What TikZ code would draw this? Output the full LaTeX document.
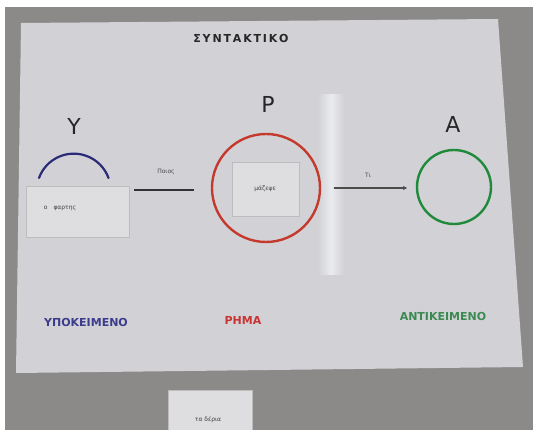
\documentclass[tikz,border=0pt]{standalone}
\usepackage{fontspec}
\setmainfont{DejaVu Sans}
\usetikzlibrary{arrows.meta}
\definecolor{bggray}{HTML}{8C8A88}
\definecolor{poster}{HTML}{D2D2D6}
\definecolor{glare}{HTML}{EAEBEE}
\definecolor{cardc}{HTML}{DEDEE0}
\definecolor{ublue}{HTML}{2A2A78}
\definecolor{rred}{HTML}{C43A2C}
\definecolor{agreen}{HTML}{1F8A3C}
\definecolor{lblue}{HTML}{3C3C8C}
\definecolor{lred}{HTML}{C83434}
\definecolor{lgreen}{HTML}{3A8A52}
\tikzset{
  card/.style={fill=cardc, draw=cardc!85!black, line width=0.4pt, inner sep=0pt},
  cardtext/.style={font=\fontsize{6}{7}\selectfont, text=black!75},
  bigletter/.style={font=\fontsize{22}{24}\selectfont, text=black!85},
  caption/.style={font=\bfseries\fontsize{11}{12}\selectfont},
  stroke/.style={line width=2.2pt, line cap=round},
  smalllabel/.style={font=\fontsize{6}{7}\selectfont, text=black!70}
}
\begin{document}
\begin{tikzpicture}[x=1pt,y=-1pt]
\useasboundingbox (0,0) rectangle (538,430);
\fill[white] (0,0) rectangle (538,430);
\fill[bggray] (5,7) rectangle (533,430);
% poster
\fill[poster] (21,23) -- (498,19) -- (523,367) -- (16,373) -- cycle;
\shade[left color=poster, right color=glare] (318,95) rectangle (331,275);
\shade[left color=glare, right color=poster] (331,95) rectangle (344,275);
% title
\node[font=\bfseries\fontsize{11}{12}\selectfont, text=black!85] (title) at (241,38) {Σ\,Υ\,Ν\,Τ\,Α\,Κ\,Τ\,Ι\,Κ\,Ο};
% big letters
\node[bigletter] (Y) at (74,126) {Υ};
\node[bigletter] (P) at (268,104) {Ρ};
\node[bigletter] (A) at (453,124) {Α};
% subject
\draw[ublue, stroke] (39,178) arc[start angle=200, end angle=340, radius=37];
\node[card, minimum width=103pt, minimum height=51pt] (ycard) at (78,212) {};
\node[cardtext] (ytext) at (60,208) {ο\quad φαρτης};
% verb circle
\node[draw=rred, line width=2.4pt, circle, minimum size=108pt] (pcirc) at (266,188) {};
\node[card, minimum width=67pt, minimum height=54pt] (pcard) at (266,189) {};
\node[cardtext] (ptext) at (265,189) {μάζεψε};
% object circle
\node[draw=agreen, line width=2.4pt, circle, minimum size=74pt] (acirc) at (454,187) {};
% connectors
\coordinate (l1a) at (134,190);
\coordinate (l1b) at (194,190);
\draw[black!80, line width=1.8pt] (l1a) -- (l1b);
\node[smalllabel] (q1) at (166,172) {Ποιος};
\coordinate (l2a) at (334,188);
\coordinate (l2b) at (407,188);
\draw[black!70, line width=1.8pt, -{Stealth[length=4pt,width=4pt]}] (l2a) -- (l2b);
\node[smalllabel] (q2) at (368,175) {Τι};
% captions
\node[caption, text=lblue] (c1) at (86,322) {ΥΠΟΚΕΙΜΕΝΟ};
\node[caption, text=lred] (c2) at (243,320) {ΡΗΜΑ};
\node[caption, text=lgreen] (c3) at (443,316) {ΑΝΤΙΚΕΙΜΕΝΟ};
% loose card
\node[card, minimum width=84pt, minimum height=44pt] (bcard) at (210,412) {};
\node[cardtext] (btext) at (208,420) {τα δέρια};
\end{tikzpicture}
\end{document}
